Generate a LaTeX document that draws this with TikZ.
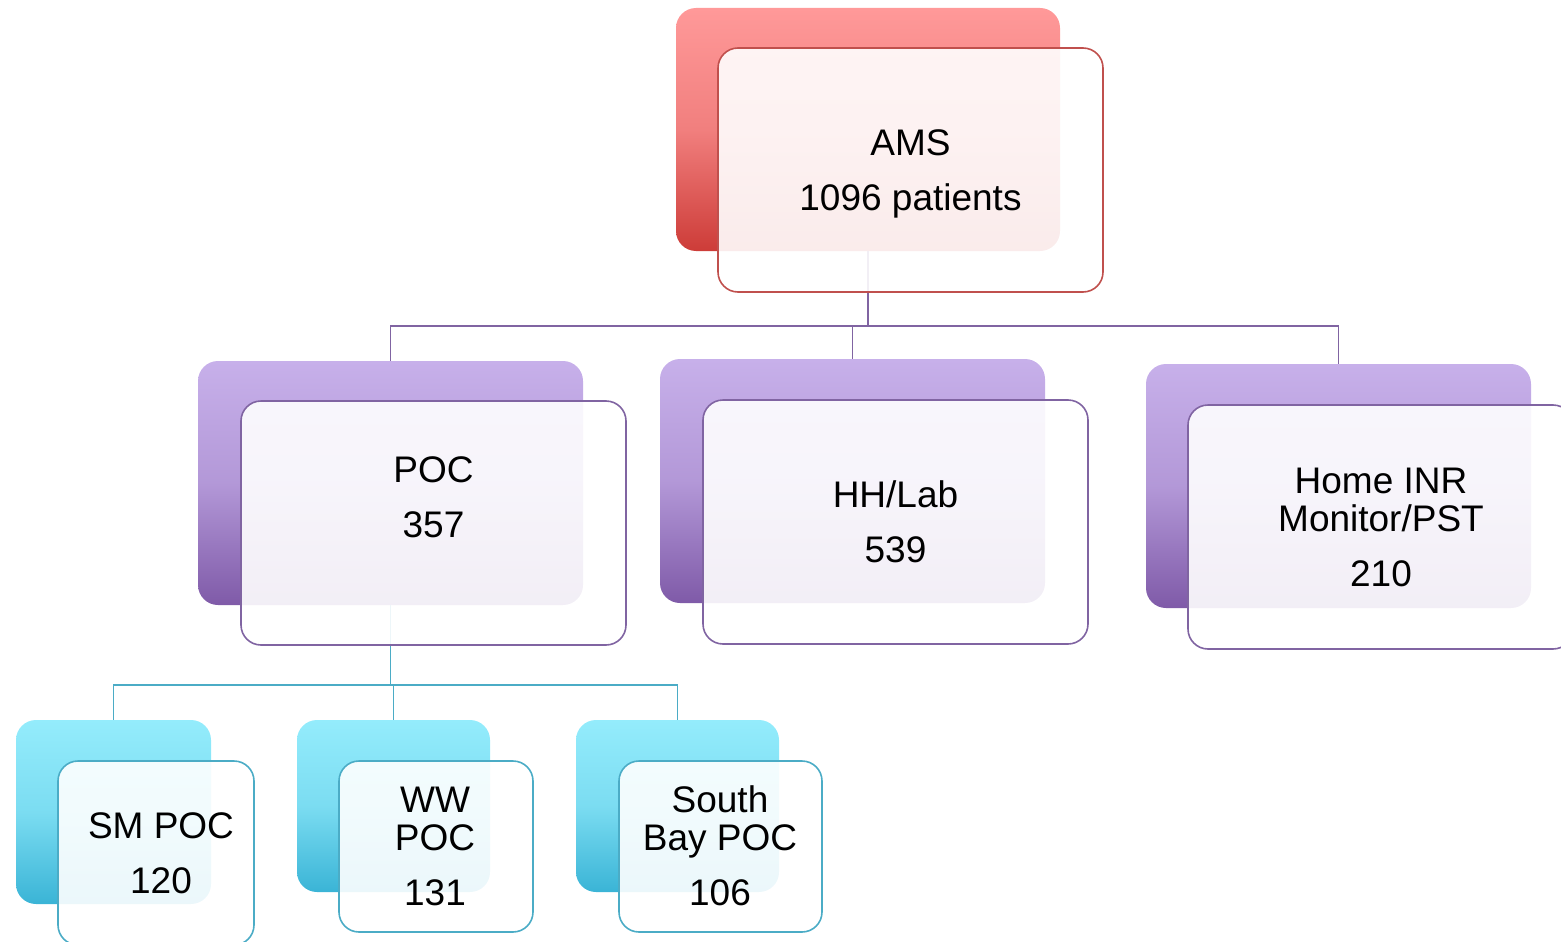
\documentclass[tikz,border=0pt]{standalone}
\usepackage{fontspec}
\setmainfont{Liberation Sans}
\definecolor{redtop}{RGB}{255,153,153}
\definecolor{redbot}{RGB}{205,60,56}
\definecolor{redline}{RGB}{192,80,77}
\definecolor{purtop}{RGB}{199,176,234}
\definecolor{purbot}{RGB}{127,90,168}
\definecolor{purline}{RGB}{128,100,162}
\definecolor{teatop}{RGB}{148,236,252}
\definecolor{teabot}{RGB}{58,180,214}
\definecolor{tealine}{RGB}{75,172,198}
\tikzset{
  backbox/.style 2 args={rounded corners=20pt, inner sep=0pt, draw=none,
    top color=#1, bottom color=#2, middle color=#1!72!#2},
  frontbox/.style={rounded corners=20pt, inner sep=0pt, draw=#1, line width=1.6pt,
    fill=white, fill opacity=0.9, draw opacity=1},
  txt/.style={align=center, inner sep=0pt, text=black, font=\fontsize{37}{38}\selectfont},
  conn/.style={draw=#1, line width=1.8pt}
}
\begin{document}
\begin{tikzpicture}[x=1pt,y=-1pt]
\clip (0,0) rectangle (1561,942);
% back boxes
\node[backbox={redtop}{redbot}, minimum width=384pt, minimum height=243pt] (amsb) at (868,129.5) {};
\node[backbox={purtop}{purbot}, minimum width=385pt, minimum height=244pt] (pocb) at (390.5,483) {};
\node[backbox={purtop}{purbot}, minimum width=385pt, minimum height=244pt] (hhb) at (852.5,481) {};
\node[backbox={purtop}{purbot}, minimum width=385pt, minimum height=244pt] (homeb) at (1338.5,486) {};
\node[backbox={teatop}{teabot}, minimum width=195pt, minimum height=184pt] (smb) at (113.5,812) {};
\node[backbox={teatop}{teabot}, minimum width=193pt, minimum height=172pt] (wwb) at (393.5,806) {};
\node[backbox={teatop}{teabot}, minimum width=203pt, minimum height=172pt] (sbb) at (677.5,806) {};
% connectors
\coordinate (j1) at (868,326);
\draw[conn=purline] (amsb.south) -- (j1);
\draw[conn=purline] (j1) -| (pocb.north);
\draw[conn=purline] (j1) -| (hhb.north);
\draw[conn=purline] (j1) -| (homeb.north);
\coordinate (j2) at (390.5,685);
\draw[conn=tealine] (pocb.south) -- (j2);
\draw[conn=tealine] (j2) -| (smb.north);
\draw[conn=tealine] (j2) -| (wwb.north);
\draw[conn=tealine] (j2) -| (sbb.north);
% front boxes
\node[frontbox=redline, minimum width=385pt, minimum height=244pt] (amsf) at (910.5,170) {};
\node[frontbox=purline, minimum width=385pt, minimum height=244pt] (pocf) at (433.5,523) {};
\node[frontbox=purline, minimum width=385pt, minimum height=244pt] (hhf) at (895.5,522) {};
\node[frontbox=purline, minimum width=385pt, minimum height=244pt] (homef) at (1380.5,527) {};
\node[frontbox=tealine, minimum width=196pt, minimum height=184pt] (smf) at (156,853) {};
\node[frontbox=tealine, minimum width=194pt, minimum height=171pt] (wwf) at (436,846.5) {};
\node[frontbox=tealine, minimum width=203pt, minimum height=171pt] (sbf) at (720.5,846.5) {};
% texts
\node[txt] (amst) at (910.5,174) {AMS\\[17pt]1096 patients};
\node[txt] (poct) at (433.5,497) {POC\\[17pt]357};
\node[txt] (hht) at (895.5,522) {HH/Lab\\[17pt]539};
\node[txt] (homet) at (1381,527) {Home INR\\Monitor/PST\\[17pt]210};
\node[txt] (smt) at (161,853) {SM POC\\[17pt]120};
\node[txt] (wwt) at (435,846) {WW\\POC\\[17pt]131};
\node[txt] (sbt) at (720,846) {South\\Bay POC\\[17pt]106};
\end{tikzpicture}
\end{document}
